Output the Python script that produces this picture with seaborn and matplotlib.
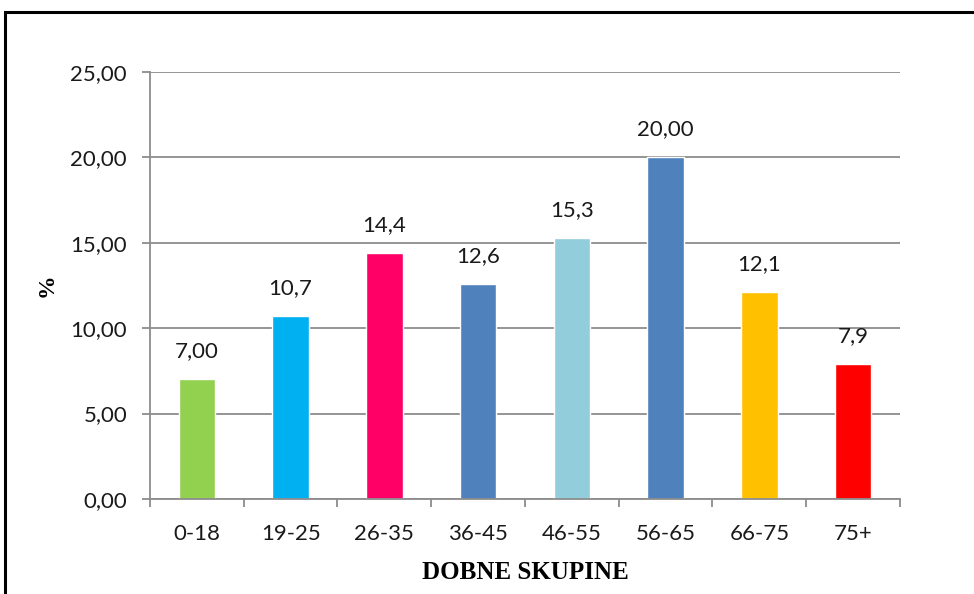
import matplotlib
matplotlib.use("Agg")
import matplotlib.pyplot as plt
import seaborn as sns
import pandas as pd
from matplotlib.patches import Rectangle
from matplotlib.ticker import FixedLocator

sns.set_theme(style="white")
plt.rcParams['font.family'] = ['Lato', 'DejaVu Sans']

# data
groups = ["0-18", "19-25", "26-35", "36-45", "46-55", "56-65", "66-75", "75+"]
values = [7.00, 10.7, 14.4, 12.6, 15.3, 20.00, 12.1, 7.9]
value_labels = ["7,00", "10,7", "14,4", "12,6", "15,3", "20,00", "12,1", "7,9"]
colors = ["#92D050", "#00B0F0", "#FF0066", "#4F81BD", "#92CDDC", "#4F81BD", "#FFC000", "#FF0000"]
yticks = [0, 5, 10, 15, 20, 25]
ytick_labels = ["0,00", "5,00", "10,00", "15,00", "20,00", "25,00"]

df = pd.DataFrame({"group": groups, "value": values})

fig = plt.figure(figsize=(9.74, 5.94), dpi=100)
ax = fig.add_axes([0.154, 0.16, 0.770, 0.7189])

sns.barplot(data=df, x="group", y="value", hue="group", palette=colors,
            legend=False, width=0.39, saturation=1, ax=ax)

grid_c = "#8c8c8c"
text_c = "#1a1a1a"

ax.set_ylim(0, 25)
ax.set_xlim(-0.5, len(groups) - 0.5)
ax.set_yticks(yticks)
ax.set_yticklabels(ytick_labels, fontsize=16, color=text_c)
ax.yaxis.grid(True, color=grid_c, linewidth=1.3)
ax.set_axisbelow(True)

for s in ["top", "right"]:
    ax.spines[s].set_visible(False)
for s in ["left", "bottom"]:
    ax.spines[s].set_color(grid_c)
    ax.spines[s].set_linewidth(1.3)

ax.tick_params(axis="y", direction="out", length=5.5, width=1.3, color=grid_c, pad=11, left=True)
ax.tick_params(axis="x", which="major", length=0, pad=18, labelsize=16, labelcolor=text_c)
ax.xaxis.set_minor_locator(FixedLocator([i - 0.5 for i in range(len(groups) + 1)]))
ax.tick_params(axis="x", which="minor", direction="out", length=6, width=1.3, color=grid_c, bottom=True)

for i, (v, lab) in enumerate(zip(values, value_labels)):
    ax.text(i, v + 1.05, lab, ha="center", va="bottom", fontsize=16, color=text_c)

ax.set_xlabel("DOBNE SKUPINE", fontsize=18, fontweight="bold", family="Liberation Serif",
              color="black", labelpad=12)
ax.set_ylabel("%", fontsize=17, fontweight="bold", family="Liberation Serif",
              color="black", labelpad=9)

# chart border, cut off at the right and bottom like the original
fig.patches.append(Rectangle((5 / 974, -0.05), 1.1, 1 - 12 / 594 + 0.05,
                             transform=fig.transFigure, fill=False,
                             edgecolor="black", linewidth=2.2))

fig.savefig("out.png", dpi=100)
